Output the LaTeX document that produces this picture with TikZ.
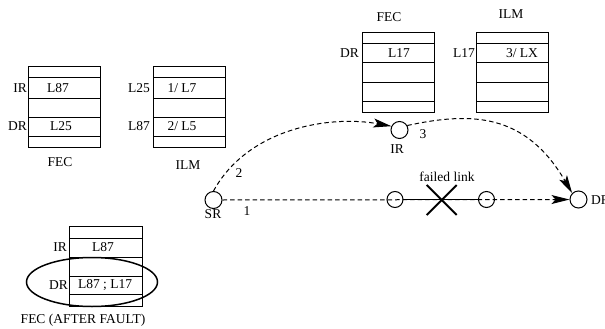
\documentclass[tikz,border=0pt]{standalone}
\usepackage{fontspec}
\setmainfont{Liberation Serif}
\usetikzlibrary{arrows.meta}
\begin{document}
\begin{tikzpicture}[x=1pt,y=-1pt,
  tbl/.style={line width=1pt, draw=black},
  lbl/.style={font=\fontsize{13.5}{16}\selectfont, inner sep=0pt},
  rtr/.style={circle, draw, line width=1pt, minimum size=17pt, inner sep=0pt},
  dsh/.style={dash pattern=on 4.5pt off 3pt, line width=1pt},
  tipa/.style={-{Stealth[length=18pt,width=9pt,inset=4pt]}}]
\useasboundingbox (0,0) rectangle (605,329);
\clip (0,0) rectangle (605,329);

% ---------- FEC table (left) ----------
\draw[tbl] (28,67) rectangle (100,147);
\foreach \yy in {78,98,117,136} \draw[tbl] (28,\yy) -- (100,\yy);
\node[lbl, anchor=east] (fir) at (27,88) {IR};
\node[lbl] (fl87) at (58,88) {L87};
\node[lbl, anchor=east] (fdr) at (27,126.5) {DR};
\node[lbl] (fl25) at (61,126.5) {L25};
\node[lbl] (fec1) at (60,162) {FEC};

% ---------- ILM table (left) ----------
\draw[tbl] (153,67) rectangle (225,147);
\foreach \yy in {78,98,117,136} \draw[tbl] (153,\yy) -- (225,\yy);
\node[lbl, anchor=east] (il25) at (150,88) {L25};
\node[lbl] (i1l7) at (182,88) {1/ L7};
\node[lbl, anchor=east] (il87) at (150,126.5) {L87};
\node[lbl] (i2l5) at (182,126.5) {2/ L5};
\node[lbl] (ilm1) at (188,165) {ILM};

% ---------- FEC table (top) ----------
\draw[tbl] (362,33) rectangle (434,112);
\foreach \yy in {44,63,82,101} \draw[tbl] (362,\yy) -- (434,\yy);
\node[lbl] (fec2) at (389,17) {FEC};
\node[lbl, anchor=east] (tdr) at (359,53.5) {DR};
\node[lbl] (tl17) at (399,53.5) {L17};

% ---------- ILM table (top) ----------
\draw[tbl] (476,33) rectangle (548,112);
\foreach \yy in {44,63,82,101} \draw[tbl] (476,\yy) -- (548,\yy);
\node[lbl] (ilm2) at (511,14) {ILM};
\node[lbl, anchor=east] (tl17b) at (475,53.5) {L17};
\node[lbl] (t3lx) at (522,53.5) {3/ LX};

% ---------- FEC table (after fault) ----------
\draw[tbl] (69,226) rectangle (142,306);
\foreach \yy in {238,257,276,294} \draw[tbl] (69,\yy) -- (142,\yy);
\node[lbl, anchor=east] (air) at (67,247.5) {IR};
\node[lbl] (al87) at (103,247.5) {L87};
\node[lbl, anchor=east] (adr) at (68,285) {DR};
\node[lbl] (al) at (105,285) {L87 ; L17};
\node[lbl] (fec3) at (83,320) {FEC (AFTER FAULT)};
\draw[line width=1.5pt] (92,282) ellipse [x radius=65.5pt, y radius=24.5pt];

% ---------- network ----------
\node[rtr] (sr) at (213.5,200) {};
\node[rtr] (ir) at (399.5,130) {};
\node[rtr] (dr) at (578.5,199.5) {};
\node[rtr, minimum size=16pt] (m1) at (395,199.5) {};
\node[rtr, minimum size=16pt] (m2) at (486.5,199.5) {};

\node[lbl] (srl) at (213,214) {SR};
\node[lbl] (irl) at (397,149) {IR};
\node[lbl, anchor=west] (drl) at (591,200) {DR};
\node[lbl] (n1) at (247,211) {1};
\node[lbl] (n2) at (239,173) {2};
\node[lbl] (n3) at (423,134) {3};
\node[lbl] (fl) at (447,177) {failed link};

% path 1 (straight, through the failed link)
\draw[dsh, tipa] (sr.east) -- (dr.west);
\draw[line width=1pt] (m1.east) -- (m2.west);
% path 2 and 3
\draw[dsh, tipa] (sr.north) .. controls (248,128) and (330,115) .. (ir.155);
\draw[dsh, tipa] (ir.30) .. controls (470,112) and (525,112) .. (dr.135);

% failure cross
\draw[line width=2pt] (426.7,185) -- (456.7,215) (456.7,185) -- (426.7,215);
\end{tikzpicture}
\end{document}
